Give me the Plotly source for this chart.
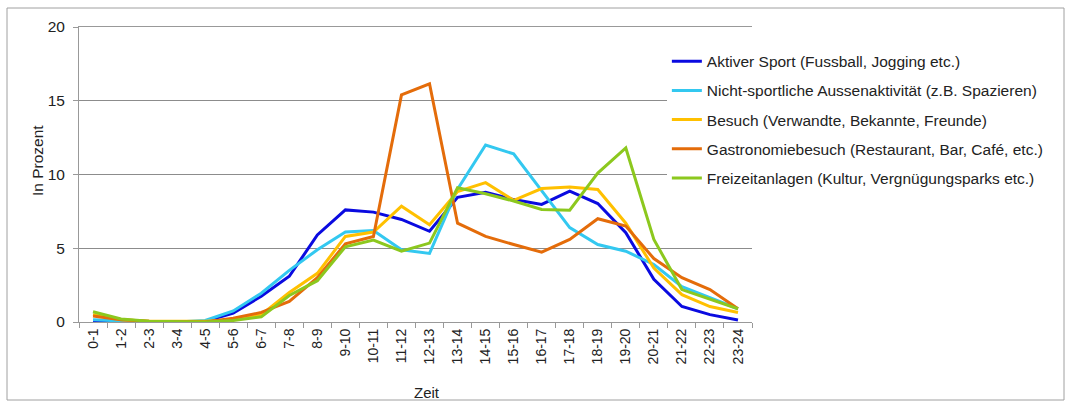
import plotly.graph_objects as go

# Hour-of-day categories
zeit = ["0-1", "1-2", "2-3", "3-4", "4-5", "5-6", "6-7", "7-8", "8-9", "9-10",
        "10-11", "11-12", "12-13", "13-14", "14-15", "15-16", "16-17", "17-18",
        "18-19", "19-20", "20-21", "21-22", "22-23", "23-24"]

# Share of activities per hour, in percent
aktiver_sport = [0.05, 0.0, 0.0, 0.0, 0.05, 0.6, 1.75, 3.1, 5.9, 7.6,
                 7.45, 6.95, 6.15, 8.45, 8.8, 8.3, 7.97, 8.87,
                 8.03, 6.05, 2.9, 1.05, 0.5, 0.13]
nicht_sportlich = [0.15, 0.05, 0.0, 0.0, 0.1, 0.75, 1.95, 3.5, 4.9, 6.1,
                   6.2, 4.9, 4.65, 9.0, 12.0, 11.4, 8.9, 6.4,
                   5.25, 4.8, 3.9, 2.4, 1.65, 0.9]
besuch = [0.5, 0.15, 0.05, 0.05, 0.05, 0.15, 0.5, 2.0, 3.3, 5.8,
          6.1, 7.85, 6.6, 8.85, 9.45, 8.25, 9.05, 9.15,
          8.98, 6.7, 3.65, 1.85, 1.05, 0.65]
gastronomie = [0.4, 0.15, 0.05, 0.0, 0.0, 0.25, 0.65, 1.4, 3.0, 5.3,
               5.8, 15.4, 16.15, 6.7, 5.8, 5.25, 4.73, 5.6,
               7.0, 6.5, 4.3, 3.0, 2.2, 0.9]
freizeit = [0.7, 0.2, 0.05, 0.0, 0.0, 0.1, 0.35, 1.8, 2.8, 5.1,
            5.55, 4.8, 5.35, 9.1, 8.7, 8.2, 7.63, 7.58,
            10.1, 11.8, 5.6, 2.2, 1.55, 0.9]

series = [
    ("Aktiver Sport (Fussball, Jogging etc.)", aktiver_sport, "#0a0ae0"),
    ("Nicht-sportliche Aussenaktivität (z.B. Spazieren)", nicht_sportlich, "#33c8f0"),
    ("Besuch (Verwandte, Bekannte, Freunde)", besuch, "#ffc000"),
    ("Gastronomiebesuch (Restaurant, Bar, Café, etc.)", gastronomie, "#e46c0a"),
    ("Freizeitanlagen (Kultur, Vergnügungsparks etc.)", freizeit, "#8cc81e"),
]

fig = go.Figure()
for name, values, color in series:
    fig.add_trace(go.Scatter(
        x=zeit, y=values, name=name, mode="lines",
        line=dict(color=color, width=3),
        legendgroup=name,
    ))

font_family = "Liberation Sans, Arial, sans-serif"
text_color = "#222222"

# Plot area spans 673 x 295 px inside the figure
pw, ph = 673, 295

fig.update_layout(
    width=1073, height=407,
    margin=dict(l=79, r=321, t=27, b=85),
    paper_bgcolor="white",
    plot_bgcolor="white",
    font=dict(family=font_family, size=15, color=text_color),
    showlegend=True,
    legend=dict(
        x=0.8735, y=0.94, xanchor="left", yanchor="top",
        bgcolor="white", borderwidth=0,
        font=dict(size=15.5, color=text_color),
        tracegroupgap=6, itemwidth=30,
    ),
    xaxis=dict(
        type="category",
        tickangle=-90,
        tickfont=dict(size=14, color=text_color),
        showgrid=False,
        showline=True, linecolor="#999999", linewidth=1, mirror=True,
        ticks="outside", ticklen=5, tickcolor="#999999",
        tickson="boundaries",
        range=[-0.5, 23.5],
    ),
    yaxis=dict(
        range=[0, 20],
        tickvals=[0, 5, 10, 15, 20],
        tickfont=dict(size=15.5, color=text_color),
        ticklabelstandoff=5,
        showgrid=True, gridcolor="#8c8c8c", gridwidth=1,
        showline=True, linecolor="#999999", linewidth=1,
        ticks="outside", ticklen=5, tickcolor="#999999",
        zeroline=False,
    ),
    annotations=[
        dict(text="Zeit", xref="paper", yref="paper",
             x=(427 - 79) / pw, y=-(392 - 322) / ph,
             xanchor="center", yanchor="middle", showarrow=False,
             font=dict(size=15, color=text_color)),
        dict(text="In Prozent", xref="paper", yref="paper",
             x=-(79 - 37) / pw, y=(322 - 161) / ph, textangle=-90,
             xanchor="center", yanchor="middle", showarrow=False,
             font=dict(size=15.5, color=text_color)),
    ],
    shapes=[
        dict(type="rect", xref="paper", yref="paper",
             x0=-(79 - 7) / pw, x1=(1064 - 79) / pw,
             y0=-(400 - 322) / ph, y1=(322 - 8) / ph,
             line=dict(color="#a0a0a0", width=1), fillcolor="rgba(0,0,0,0)",
             layer="below"),
    ],
)

fig.write_html("out.html")
